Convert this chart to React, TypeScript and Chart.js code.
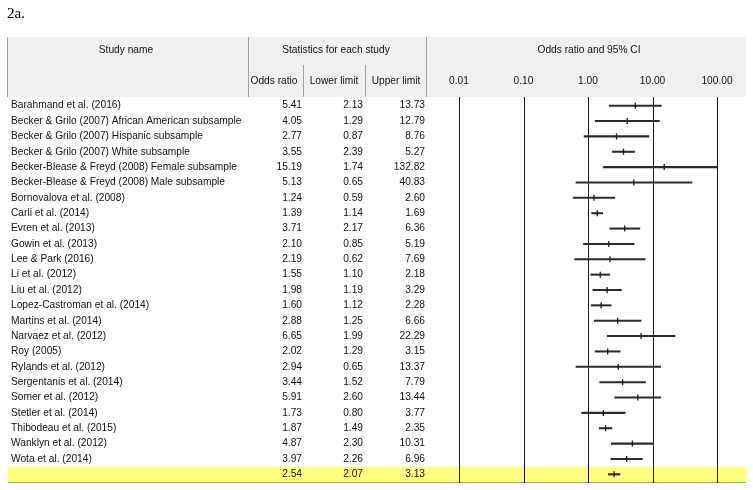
import React, { useEffect, useRef } from "react";
import { Chart, registerables } from "chart.js";

Chart.register(...registerables);

const studies = [
  "Barahmand et al. (2016)",
  "Becker & Grilo (2007) African American subsample",
  "Becker & Grilo (2007) Hispanic subsample",
  "Becker & Grilo (2007) White subsample",
  "Becker-Blease & Freyd (2008) Female subsample",
  "Becker-Blease & Freyd (2008) Male subsample",
  "Bornovalova et al. (2008)",
  "Carli et al. (2014)",
  "Evren et al. (2013)",
  "Gowin et al. (2013)",
  "Lee & Park (2016)",
  "Li et al. (2012)",
  "Liu et al. (2012)",
  "Lopez-Castroman et al. (2014)",
  "Martins et al. (2014)",
  "Narvaez et al. (2012)",
  "Roy (2005)",
  "Rylands et al. (2012)",
  "Sergentanis et al. (2014)",
  "Somer et al. (2012)",
  "Stetler et al. (2014)",
  "Thibodeau et al. (2015)",
  "Wanklyn et al. (2012)",
  "Wota et al. (2014)",
  "",
];
const oddsRatio = [5.41, 4.05, 2.77, 3.55, 15.19, 5.13, 1.24, 1.39, 3.71, 2.10, 2.19, 1.55, 1.98, 1.60, 2.88, 6.65, 2.02, 2.94, 3.44, 5.91, 1.73, 1.87, 4.87, 3.97, 2.54];
const lowerLimit = [2.13, 1.29, 0.87, 2.39, 1.74, 0.65, 0.59, 1.14, 2.17, 0.85, 0.62, 1.10, 1.19, 1.12, 1.25, 1.99, 1.29, 0.65, 1.52, 2.60, 0.80, 1.49, 2.30, 2.26, 2.07];
const upperLimit = [13.73, 12.79, 8.76, 5.27, 132.82, 40.83, 2.60, 1.69, 6.36, 5.19, 7.69, 2.18, 3.29, 2.28, 6.66, 22.29, 3.15, 13.37, 7.79, 13.44, 3.77, 2.35, 10.31, 6.96, 3.13];
const summaryRow = 24;
const axisTicks = [0.01, 0.1, 1, 10, 100];
const axisTickLabels = ["0.01", "0.10", "1.00", "10.00", "100.00"];

const FONT = '10.2px "Liberation Sans", Arial, sans-serif';

const tablePlugin = {
  id: "forestTable",
  beforeDatasetsDraw(chart: any) {
    const ctx = chart.ctx;
    const xs = chart.scales.x;
    const ys = chart.scales.y;
    ctx.save();
    // header background
    ctx.fillStyle = "#f0f0f0";
    ctx.fillRect(8, 37, 738, 60);
    // header separators
    ctx.strokeStyle = "#a0a0a0";
    ctx.lineWidth = 1;
    const vline = (x: number, y0: number, y1: number) => {
      ctx.beginPath();
      ctx.moveTo(x + 0.5, y0);
      ctx.lineTo(x + 0.5, y1);
      ctx.stroke();
    };
    vline(7, 37, 97);
    vline(248, 37, 97);
    vline(426, 37, 97);
    vline(303, 65, 97);
    vline(365, 65, 97);
    // summary band
    const bTop = ys.getPixelForValue(summaryRow - 0.5);
    const bBot = ys.getPixelForValue(summaryRow + 0.5);
    ctx.fillStyle = "#ffff80";
    ctx.fillRect(8, bTop, 738, bBot - bTop);
    ctx.strokeStyle = "#9a9a9a";
    ctx.beginPath();
    ctx.moveTo(8, Math.round(bBot) + 0.5);
    ctx.lineTo(746, Math.round(bBot) + 0.5);
    ctx.stroke();
    // decade reference lines
    ctx.strokeStyle = "#1a1a1a";
    axisTicks.forEach((v) => {
      const px = Math.round(xs.getPixelForValue(v));
      ctx.beginPath();
      ctx.moveTo(px + 0.5, 97);
      ctx.lineTo(px + 0.5, bBot + 1);
      ctx.stroke();
    });
    ctx.restore();
  },
  afterDraw(chart: any) {
    const ctx = chart.ctx;
    const xs = chart.scales.x;
    const ys = chart.scales.y;
    ctx.save();
    ctx.fillStyle = "#000";
    ctx.font = '15px "Liberation Serif", "Times New Roman", serif';
    ctx.textBaseline = "alphabetic";
    ctx.textAlign = "left";
    ctx.fillText("2a.", 7, 18);

    ctx.font = FONT;
    ctx.fillStyle = "#111";
    ctx.textBaseline = "middle";
    ctx.textAlign = "center";
    ctx.fillText("Study name", 126, 50);
    ctx.fillText("Statistics for each study", 336, 50);
    ctx.fillText("Odds ratio and 95% CI", 589, 50);
    ctx.fillText("Odds ratio", 274, 81);
    ctx.fillText("Lower limit", 334, 81);
    ctx.fillText("Upper limit", 396, 81);
    axisTicks.forEach((v, i) => {
      ctx.fillText(axisTickLabels[i], xs.getPixelForValue(v), 81);
    });

    studies.forEach((name, i) => {
      const py = ys.getPixelForValue(i);
      ctx.textAlign = "left";
      ctx.fillText(name, 11, py);
      ctx.textAlign = "right";
      ctx.fillText(oddsRatio[i].toFixed(2), 302, py);
      ctx.fillText(lowerLimit[i].toFixed(2), 363, py);
      ctx.fillText(upperLimit[i].toFixed(2), 425, py);
    });
    ctx.restore();
  },
};

export default function App() {
  const ref = useRef<HTMLCanvasElement>(null);
  useEffect(() => {
    if (!ref.current) return;
    const chart = new Chart(ref.current, {
      type: "bar",
      data: {
        labels: studies.map((s, i) => s || "Summary " + i),
        datasets: [
          {
            type: "bar",
            label: "95% CI",
            data: studies.map((_, i) => [lowerLimit[i], upperLimit[i]]),
            backgroundColor: "#2b2b2b",
            borderWidth: 0,
            barThickness: 1.4,
            order: 2,
          } as any,
          {
            type: "scatter",
            label: "Odds ratio",
            data: studies.map((_, i) => ({ x: oddsRatio[i], y: i })),
            pointStyle: "line",
            rotation: 90,
            radius: 3,
            borderWidth: 1.3,
            borderColor: "#1a1a1a",
            backgroundColor: "#1a1a1a",
            order: 1,
          } as any,
        ],
      },
      options: {
        indexAxis: "y",
        responsive: false,
        animation: false,
        layout: { padding: { left: 459, right: 36, top: 98, bottom: 8 } },
        plugins: { legend: { display: false }, tooltip: { enabled: false } },
        scales: {
          x: { type: "logarithmic", min: 0.01, max: 100, display: false },
          y: { type: "category", offset: true, display: false },
        },
      } as any,
      plugins: [tablePlugin],
    });
    return () => chart.destroy();
  }, []);
  return (
    <div style={{ position: "fixed", left: 0, top: 0, width: 753, height: 490 }}>
      <canvas ref={ref} width={753} height={490} />
    </div>
  );
}
